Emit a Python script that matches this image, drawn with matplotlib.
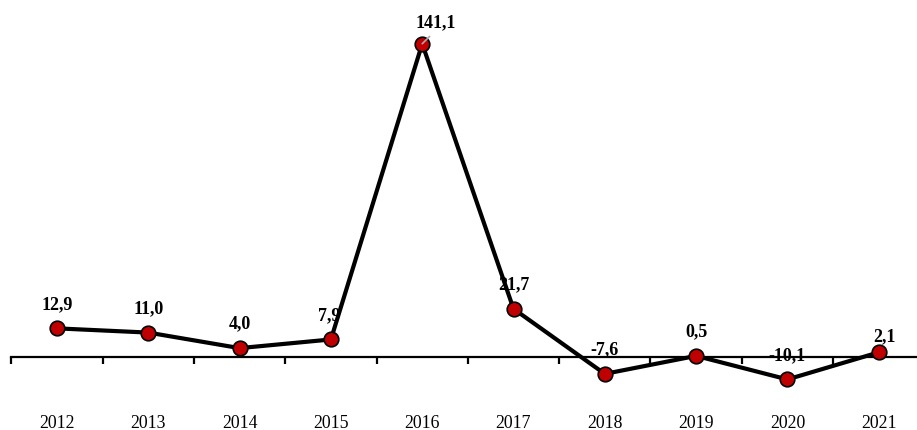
import matplotlib.pyplot as plt

years = ["2012", "2013", "2014", "2015", "2016", "2017", "2018", "2019", "2020", "2021"]
values = [12.9, 11.0, 4.0, 7.9, 141.1, 21.7, -7.6, 0.5, -10.1, 2.1]
labels = ["12,9", "11,0", "4,0", "7,9", "141,1", "21,7", "-7,6", "0,5", "-10,1", "2,1"]

plt.rcParams["font.family"] = ["Liberation Serif", "DejaVu Serif"]

W, H, DPI = 917, 431, 100
fig = plt.figure(figsize=(W / DPI, H / DPI), dpi=DPI)
# category width ~91.3 px, first category centre at x=57
left = (57 - 45.65) / W
ax = fig.add_axes([left, 0, 913 / W, 1])

x = list(range(len(years)))
px_per_unit = 2.22
ax.set_xlim(-0.5, len(years) - 0.5)
ax.set_ylim(-(H - 358) / px_per_unit, 358 / px_per_unit)

for s in ["top", "left", "right"]:
    ax.spines[s].set_visible(False)
ax.spines["bottom"].set_position(("data", 0))
ax.spines["bottom"].set_linewidth(1.6)
ax.spines["bottom"].set_zorder(3)
ax.set_yticks([])

ax.set_xticks(x)
ax.set_xticklabels(years, fontsize=12.8)
ax.set_xticks([i - 0.5 for i in range(len(years) + 1)], minor=True)
ax.tick_params(axis="x", which="major", length=0, pad=41)
ax.tick_params(axis="x", which="minor", length=5, width=1.6, direction="out")

ax.plot(x, values, color="black", linewidth=3, zorder=4,
        marker="o", markersize=10.5, markerfacecolor="#C00000",
        markeredgecolor="black", markeredgewidth=1.2)

offsets = [(0, 18), (0, 18), (0, 18), (-1, 18), (9.5, 15.5), (0, 18),
           (0, 18), (0, 18), (0, 18), (4, 12)]
for xi, v, lab, off in zip(x, values, labels, offsets):
    if lab == "141,1":
        ax.annotate(lab, (xi, v), xytext=off, textcoords="offset points",
                    ha="center", va="center", fontsize=13, fontweight="bold",
                    zorder=5,
                    arrowprops=dict(arrowstyle="-", color="#A8A8A8", lw=1.2,
                                    relpos=(0.5, 0.0), shrinkA=3, shrinkB=0))
    else:
        ax.annotate(lab, (xi, v), xytext=off, textcoords="offset points",
                    ha="center", va="center", fontsize=13, fontweight="bold",
                    zorder=2)

fig.savefig("out.png", dpi=DPI)
